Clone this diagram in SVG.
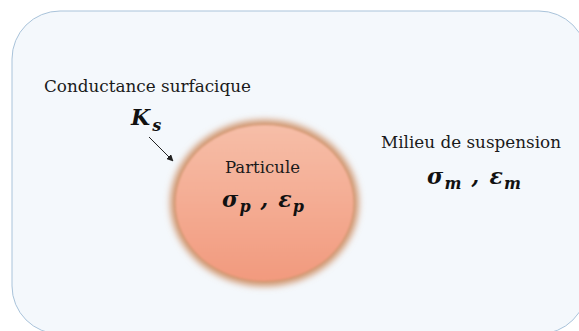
<svg xmlns="http://www.w3.org/2000/svg" width="579" height="331" viewBox="0 0 579 331">
<style>
.lbl{font-family:"DejaVu Serif","Liberation Serif",serif;fill:#1a1a1a;font-size:16px}
.math{font-family:"DejaVu Serif","Liberation Serif",serif;fill:#111;font-weight:bold;font-style:italic}
</style>
<defs>
<linearGradient id="disc" x1="0" y1="0" x2="0" y2="1">
<stop offset="0" stop-color="#f6bea8"/>
<stop offset="1" stop-color="#f29a7e"/>
</linearGradient>
<filter id="blur3" x="-20%" y="-20%" width="140%" height="140%"><feGaussianBlur stdDeviation="3.5"/></filter>
<filter id="blur1" x="-10%" y="-10%" width="120%" height="120%"><feGaussianBlur stdDeviation="1.2"/></filter>
<marker id="arr" viewBox="0 0 10 10" refX="9" refY="5" markerWidth="7" markerHeight="7" orient="auto" markerUnits="userSpaceOnUse">
<path d="M0,0 L10,5 L0,10 z" fill="#222"/>
</marker>
</defs>
<rect x="0" y="0" width="579" height="331" fill="#ffffff"/>
<g id="milieu">
<rect x="12" y="11" width="575" height="323" rx="48" ry="48" fill="#f4f8fc" stroke="#a9c3da" stroke-width="1"/>
<text class="lbl" x="381" y="148" textLength="180" lengthAdjust="spacingAndGlyphs">Milieu de suspension</text>
<text class="math" x="427" y="184" font-size="22" textLength="94" lengthAdjust="spacing">σ<tspan font-size="16" dy="5">m</tspan><tspan dy="-5"> , </tspan>ε<tspan font-size="16" dy="5">m</tspan></text>
</g>
<g id="particule">
<ellipse cx="264.5" cy="203" rx="94" ry="83" fill="#cf9168" filter="url(#blur3)"/>
<ellipse cx="264.5" cy="203" rx="89" ry="78" fill="url(#disc)" filter="url(#blur1)"/>
<text class="lbl" x="225" y="173" textLength="75" lengthAdjust="spacingAndGlyphs">Particule</text>
<text class="math" x="222" y="207" font-size="22" textLength="82" lengthAdjust="spacing">σ<tspan font-size="16" dy="5">p</tspan><tspan dy="-5"> , </tspan>ε<tspan font-size="16" dy="5">p</tspan></text>
</g>
<g id="conductance">
<text class="lbl" x="44" y="92" textLength="207" lengthAdjust="spacingAndGlyphs">Conductance surfacique</text>
<text class="math" x="131" y="125" font-size="22">K<tspan font-size="16" dx="2" dy="6">s</tspan></text>
</g>
<g id="connectors">
<line x1="149" y1="137" x2="173" y2="161" stroke="#222" stroke-width="1" marker-end="url(#arr)"/>
</g>
</svg>
